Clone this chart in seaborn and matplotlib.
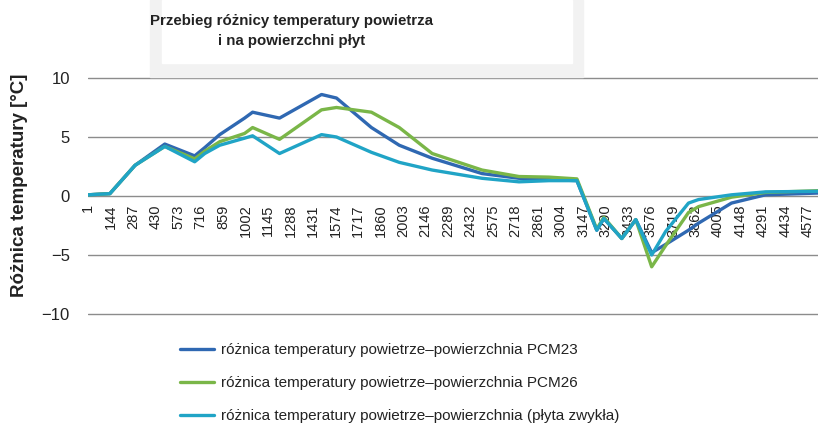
import numpy as np
import pandas as pd
import matplotlib
matplotlib.use("Agg")
import matplotlib.pyplot as plt
import seaborn as sns
from matplotlib.patches import Rectangle

# sample index of the measurement (x axis is category number, label every 143)
idx = [1, 140, 300, 489, 679, 743, 838, 996, 1047, 1218, 1485, 1580, 1802,
       1979, 2188, 2505, 2740, 2930, 3108, 3234, 3279, 3393, 3482, 3583,
       3672, 3817, 3881, 4090, 4306, 4640]

pcm23 = [0.1, 0.2, 2.6, 4.4, 3.4, 4.1, 5.2, 6.6, 7.1, 6.6, 8.6, 8.3, 5.8,
         4.3, 3.2, 1.9, 1.5, 1.4, 1.3, -2.9, -1.9, -3.6, -2.0, -4.8,
         -4.1, -2.9, -2.3, -0.6, 0.1, 0.25]
pcm26 = [0.1, 0.2, 2.6, 4.2, 3.15, 3.8, 4.6, 5.3, 5.8, 4.8, 7.3, 7.5, 7.1,
         5.8, 3.6, 2.2, 1.65, 1.6, 1.45, -2.8, -1.8, -3.6, -2.0, -6.0,
         -4.2, -1.4, -0.9, -0.1, 0.3, 0.45]
zwykla = [0.1, 0.2, 2.6, 4.2, 2.9, 3.6, 4.3, 4.9, 5.1, 3.6, 5.2, 5.0, 3.7,
          2.85, 2.2, 1.5, 1.2, 1.3, 1.3, -2.9, -1.9, -3.6, -2.0, -5.0,
          -3.0, -0.6, -0.3, 0.1, 0.35, 0.4]

labels = ["różnica temperatury powietrze–powierzchnia PCM23",
          "różnica temperatury powietrze–powierzchnia PCM26",
          "różnica temperatury powietrze–powierzchnia (płyta zwykła)"]
colors = ["#2f68b2", "#7ab648", "#20a4c6"]

xticks = list(range(1, 4578, 143))

df = pd.concat([
    pd.DataFrame({"x": idx, "y": vals, "seria": lab})
    for vals, lab in zip([pcm23, pcm26, zwykla], labels)
])

sns.set_theme(style="white")
plt.rcParams["font.family"] = ["Liberation Sans", "DejaVu Sans"]

W, H = 818, 426
fig = plt.figure(figsize=(W / 100, H / 100), dpi=100)

# faint watermark frame behind the title
fig.patches.append(Rectangle((150 / W, 1 - 77 / H), 433 / W, 77 / H,
                             transform=fig.transFigure, color="#f2f2f2", zorder=0))
fig.patches.append(Rectangle((162 / W, 1 - 63 / H), 410 / W, 63 / H,
                             transform=fig.transFigure, color="white", zorder=0))

# y from -10.15 to 10.15 so the outer gridlines are not clipped
ax = fig.add_axes([88 / W, 1 - 315.8 / H, 730 / W, 239.6 / H])
ax.patch.set_alpha(0)

sns.lineplot(data=df, x="x", y="y", hue="seria", palette=colors,
             hue_order=labels, linewidth=2.4, legend=False, ax=ax)

# spine position first: it resets the ticks
for s in ax.spines.values():
    s.set_visible(False)
ax.spines["bottom"].set_position(("data", 0))

ax.set_xlim(1, 4640)
ax.set_ylim(-10.15, 10.15)
ax.set_yticks([-10, -5, 0, 5, 10])
ax.set_yticklabels(["\u221210", "\u22125", "0", "5", "10"])
ax.set_xticks(xticks)
ax.set_xticklabels([str(t) for t in xticks], rotation=90, va="top", ha="center")
ax.yaxis.grid(True, color="#8c8c8c", linewidth=1.0, zorder=0)
ax.set_axisbelow(True)
ax.tick_params(axis="x", length=0, pad=6, labelsize=10.5, colors="#222222")
ax.tick_params(axis="y", length=0, pad=13, labelsize=12, colors="#222222")
ax.set_xlabel("")
ax.set_ylabel("")

fig.text(20 / W, 1 - 185 / H, "Różnica temperatury [°C]", rotation=90,
         ha="center", va="center", fontsize=13.5, fontweight="bold", color="#222222")
fig.text(292 / W, 1 - 31 / H, "Przebieg różnicy temperatury powietrza\ni na powierzchni płyt",
         ha="center", va="center", fontsize=10.8, fontweight="bold",
         color="#222222", linespacing=1.6)

fig.legend(ax.lines[:3], labels, loc="upper left",
           bbox_to_anchor=(180 / W, 1 - 343 / H), bbox_transform=fig.transFigure,
           frameon=False, fontsize=11, handlelength=2.2, handletextpad=0.5,
           labelspacing=1.25, borderpad=0, borderaxespad=0,
           labelcolor="#222222")

fig.savefig("out.png", dpi=100)
